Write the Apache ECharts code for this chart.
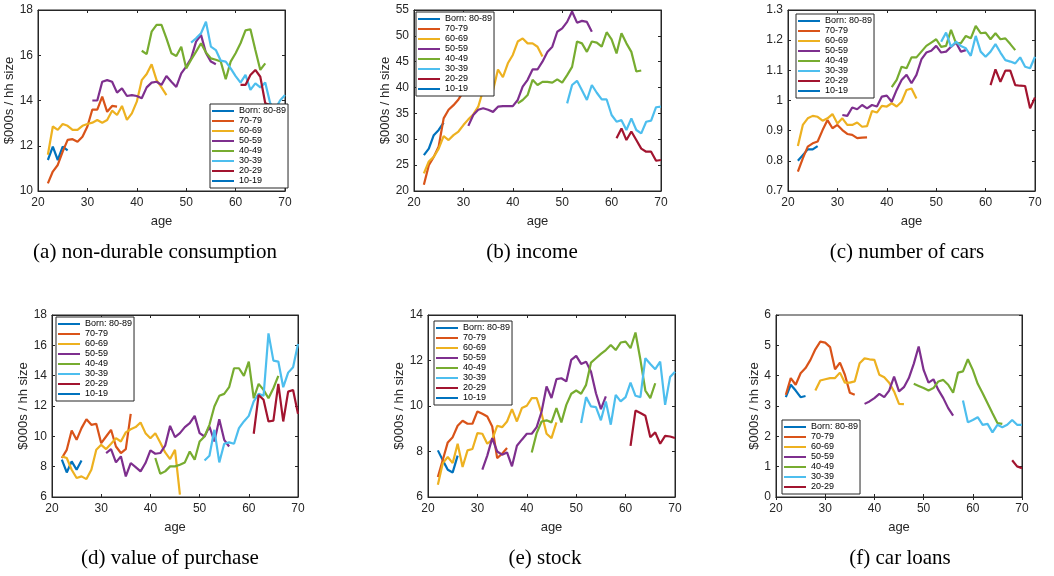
<!DOCTYPE html>
<html><head><meta charset="utf-8">
<script src="https://cdn.jsdelivr.net/npm/echarts@6/dist/echarts.min.js"></script>
<style>html,body{margin:0;padding:0;background:#fff}#c{width:1054px;height:576px}</style>
</head><body><div id="c"></div><script>
const cohortNames = ['Born: 80-89','70-79','60-69','50-59','40-49','30-39','20-29','10-19'];
const cohortColors = ['#0072BD','#D95319','#EDB120','#7E2F8E','#77AC30','#4DBEEE','#A2142F','#0072BD'];
const xTicks = {min:20, max:70, interval:10};
// first age of each cohort's line
const startAgesMain = [22,22,22,31,41,51,61,70];
const startAgesLoans = [22,22,28,38,48,58,68];

// (a) non-durable consumption
const cons80 = [11.37,11.96,11.37,11.96,11.8];
const cons70 = [10.34,10.86,11.15,11.74,12.26,12.29,12.18,12.4,12.85,13.6,13.6,14.17,13.5,13.76,13.73];
const cons60 = [11.6,12.85,12.7,12.96,12.88,12.7,12.7,12.88,12.96,13.02,13.14,13.02,13.14,13.55,13.36,13.76,13.14,13.43,13.95,14.9,15.17,15.6,14.9,14.58,14.24];
const cons50 = [14.0,14.0,14.83,14.9,14.83,14.35,14.54,14.2,14.24,14.2,14.1,14.58,14.79,14.83,14.69,15.08,14.83,14.6,15.2,15.5,15.86,16.6,16.9,16.1,15.72,15.6];
const cons40 = [16.2,16.05,17.04,17.34,17.34,16.75,16.09,15.97,16.38,15.42,15.8,16.16,16.53,16.12,15.86,15.8,15.72,14.94,15.72,16.09,16.53,17.1,17.15,16.23,15.35,15.64];
const cons30 = [16.56,16.75,16.97,17.48,16.38,16.23,15.76,15.72,15.42,15.08,14.79,15.13,14.47,14.76,14.58,14.79,13.88,13.6,14.0,14.24];
const cons20 = [14.69,14.69,15.13,15.35,15.05,13.88,13.8,13.8,13.43,12.92];
const cons10 = [];

// (b) income
const inc80 = [26.95,28.2,30.8,31.8,33.2];
const inc70 = [21.2,25.0,26.6,28.6,34.05,35.7,36.6,37.7,39.2,40.8,42.0,43.0,44.0,44.7,44.2];
const inc60 = [23.4,25.7,26.6,28.2,30.6,29.85,30.8,31.5,32.75,33.85,34.8,36.3,39.5,39.5,39.5,43.5,42.0,44.7,46.3,48.9,49.5,48.55,48.55,47.9,46.0];
const inc50 = [32.6,34.7,35.7,36.0,35.7,35.3,36.3,36.4,36.4,36.4,37.6,40.2,41.5,43.5,43.5,45.0,46.9,47.9,50.8,51.45,52.7,54.7,52.55,52.9,52.7,50.8];
const inc40 = [36.95,37.6,38.55,41.5,40.5,41.1,41.1,40.95,41.6,40.95,42.4,44.0,48.9,48.55,46.9,48.9,48.7,47.9,50.7,49.3,46.6,50.5,48.55,46.9,43.1,43.3];
const inc30 = [36.95,40.5,41.3,39.5,37.6,40.5,39.0,37.7,37.7,34.7,33.4,33.7,31.8,34.05,31.8,31.15,33.4,33.6,36.2,36.3];
const inc20 = [30.2,32.1,29.85,31.5,29.85,28.2,27.6,27.6,25.85,26.0];
const inc10 = [];

// (c) number of cars
const cars80 = [0.80,0.819,0.838,0.838,0.849];
const cars70 = [0.764,0.808,0.847,0.858,0.864,0.902,0.935,0.908,0.919,0.902,0.889,0.886,0.875,0.877,0.878];
const cars60 = [0.849,0.919,0.941,0.949,0.946,0.933,0.941,0.955,0.924,0.941,0.919,0.919,0.927,0.913,0.915,0.965,0.96,0.982,0.98,0.991,0.98,0.996,1.035,1.04,1.007];
const cars50 = [0.952,0.949,0.977,0.971,0.985,0.974,0.985,0.98,1.013,1.016,0.996,1.035,1.068,1.085,1.057,1.085,1.136,1.159,1.165,1.181,1.159,1.162,1.178,1.192,1.162,1.167];
const cars40 = [1.044,1.068,1.112,1.107,1.143,1.143,1.162,1.181,1.192,1.203,1.178,1.181,1.234,1.19,1.19,1.214,1.206,1.247,1.223,1.225,1.203,1.223,1.203,1.206,1.187,1.167];
const cars30 = [1.195,1.225,1.178,1.195,1.181,1.173,1.148,1.214,1.162,1.145,1.162,1.187,1.159,1.134,1.129,1.123,1.143,1.112,1.107,1.145];
const cars20 = [1.051,1.103,1.062,1.099,1.099,1.051,1.049,1.048,0.974,1.01];
const cars10 = [];

// (d) value of purchase
const pur80 = [8.46,7.62,8.35,7.8,8.41];
const pur70 = [8.57,9.11,10.39,9.77,10.54,11.13,10.76,10.83,9.55,9.99,10.43,9.33,8.9,9.16,11.48];
const pur60 = [8.68,8.57,7.8,7.25,7.36,7.18,7.8,9.11,9.44,9.16,9.51,9.88,9.66,10.26,10.47,10.61,10.91,10.21,9.88,10.21,9.6,8.94,8.5,9.11,6.15];
const pur50 = [8.9,9.16,8.28,8.68,7.36,8.24,7.97,7.69,8.24,9.07,8.85,8.9,9.38,10.69,9.95,10.21,10.61,10.87,11.35,10.21,9.99,10.65,9.66,11.13,9.77,9.33];
const pur40 = [8.57,7.53,7.69,8.02,8.02,8.13,8.28,9.0,8.46,9.66,9.99,10.76,11.97,12.67,12.8,13.24,14.49,14.49,13.99,14.93,12.51,13.46,13.06,12.51,13.17,13.99];
const pur30 = [8.41,8.72,10.43,8.28,9.51,9.6,9.51,10.54,10.98,11.35,12.3,12.8,12.67,16.79,14.99,14.93,13.24,14.2,14.56,16.09];
const pur20 = [10.17,12.73,12.41,10.98,11.04,13.46,10.98,12.95,13.06,11.48];
const pur10 = [];

// (e) stock
const stk80 = [8.05,7.61,7.2,7.08,7.82];
const stk70 = [6.88,7.64,8.4,8.63,9.13,9.35,9.22,9.22,9.76,9.66,9.54,9.1,7.71,7.9,8.15];
const stk60 = [6.54,7.49,7.76,7.49,8.34,7.32,8.05,8.11,8.81,8.78,8.34,8.52,9.13,9.07,9.32,9.86,9.32,9.91,10.01,10.35,10.35,9.66,8.78,8.59,9.28];
const stk50 = [7.2,7.82,8.59,8.0,7.86,7.96,7.35,8.25,8.52,8.78,8.78,9.07,9.76,10.86,10.35,11.18,11.22,11.08,12.03,12.2,11.85,11.95,11.51,10.56,9.86,10.42];
const stk40 = [7.96,8.81,9.32,9.37,9.28,9.91,9.28,10.05,10.54,10.68,10.54,10.93,11.91,12.1,12.29,12.46,12.68,12.46,12.79,12.83,12.54,13.23,12.03,10.68,10.35,11.0];
const stk30 = [9.25,10.39,9.98,9.95,9.37,10.2,9.18,10.49,10.2,10.39,11.03,10.45,10.39,12.1,11.85,11.62,11.95,10.05,11.27,11.51];
const stk20 = [8.25,9.8,9.69,9.57,8.63,8.84,8.34,8.69,8.66,8.59];
const stk10 = [];

// (f) car loans
const loan80 = [3.29,3.7,3.51,3.29,3.33];
const loan70 = [3.37,3.92,3.7,4.08,4.25,4.52,4.87,5.12,5.09,4.94,4.21,4.43,4.03,3.44,3.37];
const loan60 = [3.51,3.84,3.88,3.92,3.92,4.1,3.77,3.77,3.81,4.41,4.57,4.54,4.52,4.03,3.95,3.77,3.48,3.07,3.06];
const loan50 = [3.07,3.15,3.26,3.4,3.29,3.51,3.97,3.48,3.62,3.92,4.39,4.96,4.19,3.77,3.88,3.53,3.26,2.93,2.68];
const loan40 = [3.73,3.66,3.59,3.51,3.59,3.81,3.86,3.7,3.44,4.1,4.14,4.54,4.19,3.73,3.42,3.09,2.76,2.44,2.41];
const loan30 = [3.18,2.46,2.54,2.63,2.38,2.41,2.13,2.38,2.3,2.38,2.54,2.38,2.38];
const loan20 = [1.21,1.01,0.95];

const yName = '$000s / hh size';
const panels = [
  {sets:[cons80,cons70,cons60,cons50,cons40,cons30,cons20,cons10], starts:startAgesMain,
   grid:{left:38,top:10,width:247,height:181}, y:{min:10,max:18,interval:2}, yName:yName, yGap:17,
   legend:{left:210,top:104}, caption:'(a) non-durable consumption', cap:[155,252]},
  {sets:[inc80,inc70,inc60,inc50,inc40,inc30,inc20,inc10], starts:startAgesMain,
   grid:{left:414,top:10,width:247,height:181}, y:{min:20,max:55,interval:5}, yName:yName, yGap:17,
   legend:{left:416,top:12}, caption:'(b) income', cap:[532,252]},
  {sets:[cars80,cars70,cars60,cars50,cars40,cars30,cars20,cars10], starts:startAgesMain,
   grid:{left:788,top:10,width:247,height:181}, y:{min:0.7,max:1.3,interval:0.1}, yName:'', yGap:17,
   legend:{left:796,top:14}, caption:'(c) number of cars', cap:[907,252]},
  {sets:[pur80,pur70,pur60,pur50,pur40,pur30,pur20,pur10], starts:startAgesMain,
   grid:{left:52,top:315,width:246,height:182}, y:{min:6,max:18,interval:2}, yName:yName, yGap:18,
   legend:{left:56,top:317}, caption:'(d) value of purchase', cap:[170,558]},
  {sets:[stk80,stk70,stk60,stk50,stk40,stk30,stk20,stk10], starts:startAgesMain,
   grid:{left:428,top:315,width:247,height:182}, y:{min:6,max:14,interval:2}, yName:yName, yGap:18,
   legend:{left:434,top:321}, caption:'(e) stock', cap:[545,558]},
  {sets:[loan80,loan70,loan60,loan50,loan40,loan30,loan20], starts:startAgesLoans,
   grid:{left:776,top:315,width:246,height:182}, y:{min:0,max:6,interval:1}, yName:yName, yGap:15,
   legend:{left:782,top:420}, caption:'(f) car loans', cap:[900,558]}
];

const FONT = '"Liberation Sans", Arial, Helvetica, sans-serif';
const AX = '#262626';
const grids = [], xAxes = [], yAxes = [], series = [], legends = [], graphics = [];
panels.forEach((p, g) => {
  grids.push(Object.assign({show:true, borderColor:AX, borderWidth:1, backgroundColor:'#fff'}, p.grid));
  const tick = {show:true, inside:true, length:3, lineStyle:{color:AX, width:1}};
  xAxes.push({type:'value', gridIndex:g, min:xTicks.min, max:xTicks.max, interval:xTicks.interval, position:'bottom',
    name:'age', nameLocation:'middle', nameGap:24, nameTextStyle:{fontSize:13, color:AX, fontFamily:FONT},
    axisLine:{show:true, lineStyle:{color:AX, width:1}}, axisTick:tick, splitLine:{show:false},
    axisLabel:{fontSize:12, color:AX, fontFamily:FONT, margin:6}});
  xAxes.push({type:'value', gridIndex:g, min:xTicks.min, max:xTicks.max, interval:xTicks.interval, position:'top',
    axisLine:{show:true, lineStyle:{color:AX, width:1}}, axisTick:tick, splitLine:{show:false}, axisLabel:{show:false}});
  yAxes.push({type:'value', gridIndex:g, min:p.y.min, max:p.y.max, interval:p.y.interval, position:'left',
    name:p.yName, nameLocation:'middle', nameGap:p.yGap, nameRotate:90, nameTextStyle:{fontSize:13, color:AX, fontFamily:FONT},
    axisLine:{show:true, lineStyle:{color:AX, width:1}}, axisTick:tick, splitLine:{show:false},
    axisLabel:{fontSize:12, color:AX, fontFamily:FONT, margin:5}});
  yAxes.push({type:'value', gridIndex:g, min:p.y.min, max:p.y.max, interval:p.y.interval, position:'right',
    axisLine:{show:true, lineStyle:{color:AX, width:1}}, axisTick:tick, splitLine:{show:false}, axisLabel:{show:false}});
  p.sets.forEach((vals, k) => {
    series.push({type:'line', name:cohortNames[k], xAxisIndex:2*g, yAxisIndex:2*g,
      data: vals.map((v, i) => [p.starts[k] + i, v]),
      showSymbol:false, symbol:'none', color:cohortColors[k],
      lineStyle:{width:2.2, color:cohortColors[k]}, clip:true, silent:true, animation:false, z:2});
  });
  legends.push({data: cohortNames.slice(0, p.sets.length), left:p.legend.left, top:p.legend.top,
    orient:'vertical', icon:'rect', itemWidth:22, itemHeight:2, itemGap:0, padding:[2,2,2,2],
    backgroundColor:'#fff', borderColor:AX, borderWidth:1, selectedMode:false, z:10,
    textStyle:{fontSize:9, lineHeight:10, color:'#000', fontFamily:FONT}});
  graphics.push({type:'text', x:p.cap[0], y:p.cap[1],
    style:{text:p.caption, fill:'#000', font:'21px "Liberation Serif", "Times New Roman", serif', textAlign:'center', textVerticalAlign:'middle'}});
});

const chart = echarts.init(document.getElementById('c'), null, {renderer:'canvas'});
chart.setOption({backgroundColor:'#fff', animation:false, grid:grids, xAxis:xAxes, yAxis:yAxes, series:series, legend:legends, graphic:graphics});
</script></body></html>
